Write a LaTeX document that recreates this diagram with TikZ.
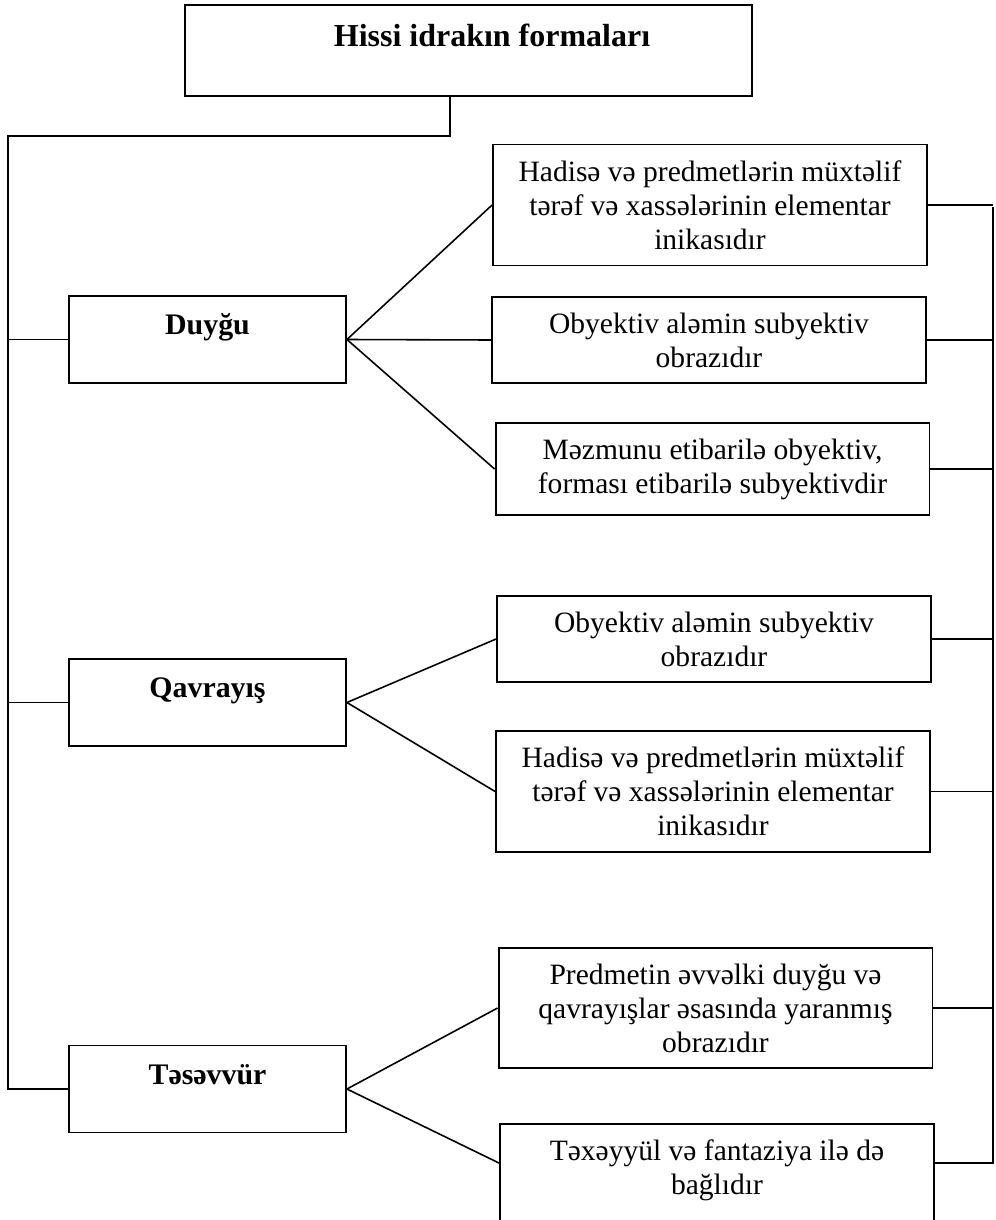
\documentclass[tikz,border=0pt]{standalone}
\usepackage{fontspec}
\setmainfont{Liberation Serif}
\usetikzlibrary{calc}

\begin{document}
\begin{tikzpicture}[x=0.02cm, y=-0.02cm,
    txt/.style={align=center, font=\fontsize{16.8}{19.3}\selectfont},
    box/.style={txt, draw, line width=1.1pt, inner sep=0pt, minimum width=8.68cm},
    headbox/.style={draw, line width=1.1pt, minimum width=5.54cm, minimum height=1.74cm,
        font=\fontsize{17}{20}\selectfont\bfseries, text height=12pt, text depth=17.6pt},
    link/.style={line width=0.9pt}]
    \useasboundingbox (0,0) rectangle (996,1220);

    % Title box
    \node[draw, line width=1.1pt, minimum width=11.34cm, minimum height=1.82cm] (title) at (468.5,50.5) {};
    \node[font=\fontsize{18.2}{21}\selectfont\bfseries] (titletext) at (492,35) {Hissi idrakın formaları};

    % The three forms
    \node[headbox] (duygu) at (207.5,339.5) {Duyğu};
    \node[headbox] (qavrayis) at (207.5,702.5) {Qavrayış};
    \node[headbox] (tesevvur) at (207.5,1089) {Təsəvvür};

    % Descriptions
    \node[box, minimum height=2.42cm] (d1) at (710,205) {Hadisə və predmetlərin müxtəlif\\tərəf və xassələrinin elementar\\inikasıdır};
    \node[box, minimum height=1.72cm] (d2) at (709,340) {Obyektiv aləmin subyektiv\\obrazıdır};
    \node[box, minimum height=1.84cm] (d3) at (712.5,469) {Məzmunu etibarilə obyektiv,\\forması etibarilə subyektivdir};
    \node[box, minimum height=1.72cm] (q1) at (714,639) {Obyektiv aləmin subyektiv\\obrazıdır};
    \node[box, minimum height=2.42cm] (q2) at (713,791.5) {Hadisə və predmetlərin müxtəlif\\tərəf və xassələrinin elementar\\inikasıdır};
    \node[box, minimum height=2.4cm] (t1) at (715.5,1008) {Predmetin əvvəlki duyğu və\\qavrayışlar əsasında yaranmış\\obrazıdır};
    \node[box, minimum height=2.5cm] (t2) at (717,1186.5) {};
    \node[txt] (t2text) at (717,1170) {Təxəyyül və fantaziya ilə də\\bağlıdır};

    % Helper points
    \coordinate (stem) at ($(title.south west)+(266,0)$);
    \coordinate (lspine) at (8,136);
    \coordinate (rspine) at (993,207);
    \coordinate (t2in) at ($(t2.north west)+(0,40)$);
    \coordinate (t2out) at ($(t2.north east)+(0,40)$);

    % Left spine
    \draw[link] (stem) |- (lspine) |- (tesevvur.west);
    \draw[link] (lspine |- duygu.west) -- (duygu.west);
    \draw[link] (lspine |- qavrayis.west) -- (qavrayis.west);

    % Fans
    \foreach \t in {d1,d2,d3}
        \draw[link] (duygu.east) -- (\t.west);
    \foreach \t in {q1,q2}
        \draw[link] (qavrayis.east) -- (\t.west);
    \draw[link] (tesevvur.east) -- (t1.west);
    \draw[link] (tesevvur.east) -- (t2in);

    % Right spine
    \foreach \t in {d1,d2,d3,q1,q2,t1}
        \draw[link] (\t.east) -- (\t.east -| rspine);
    \draw[link] (t2out) -| (rspine);
\end{tikzpicture}
\end{document}
